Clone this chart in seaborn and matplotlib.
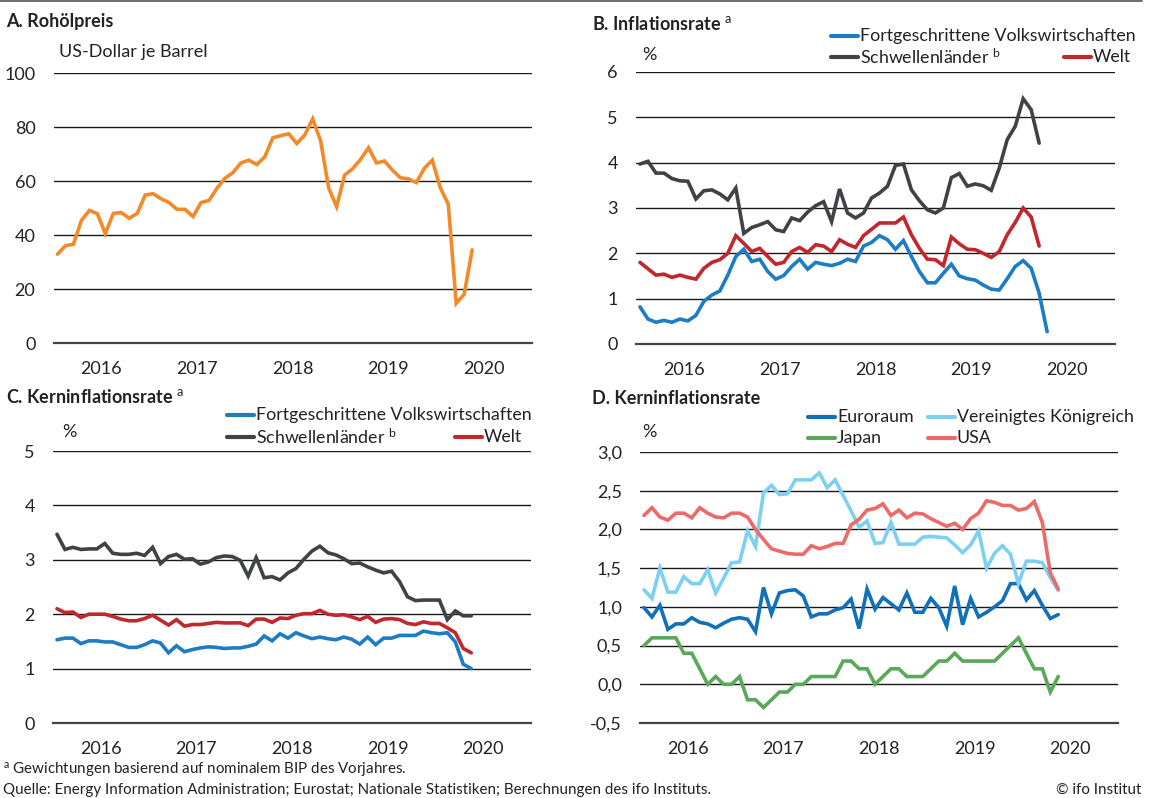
import numpy as np
import pandas as pd
import matplotlib
matplotlib.use('Agg')
import matplotlib.pyplot as plt
import seaborn as sns
from matplotlib.lines import Line2D

# Darstellung
sns.set_style('white')
plt.rcParams['font.family'] = ['Lato', 'DejaVu Sans']
plt.rcParams['mathtext.fontset'] = 'custom'
plt.rcParams['mathtext.rm'] = 'Lato'
plt.rcParams['mathtext.it'] = 'Lato:italic'
plt.rcParams['mathtext.bf'] = 'Lato:bold'

W, H = 1150, 798
years = ['2016', '2017', '2018', '2019', '2020']

# A. Rohölpreis (US-Dollar je Barrel), monatlich ab Jan 2016
oil = [32.9, 36.0, 36.6, 45.4, 49.1, 47.9, 40.5, 48.0, 48.3, 46.2, 48.0, 54.8,
       55.3, 53.4, 52.0, 49.5, 49.5, 46.8, 52.0, 52.8, 57.3, 61.0, 63.1, 66.7,
       67.7, 66.1, 69.0, 76.0, 76.8, 77.5, 73.9, 77.0, 83.0, 74.8, 57.5, 50.5,
       62.2, 64.5, 68.0, 72.3, 66.7, 67.4, 64.0, 61.2, 60.8, 59.4, 64.7, 67.7,
       57.5, 51.4, 14.7, 18.1, 34.5]

# B. Inflationsrate (%)
inf_adv = [0.82, 0.55, 0.48, 0.52, 0.48, 0.55, 0.51, 0.63, 0.94, 1.08, 1.17, 1.52,
           1.93, 2.09, 1.82, 1.87, 1.60, 1.43, 1.51, 1.71, 1.87, 1.65, 1.80, 1.76,
           1.73, 1.78, 1.87, 1.82, 2.16, 2.24, 2.39, 2.30, 2.09, 2.28, 1.93, 1.60,
           1.35, 1.35, 1.56, 1.76, 1.50, 1.44, 1.41, 1.30, 1.21, 1.19, 1.44, 1.71,
           1.84, 1.67, 1.12, 0.27]
inf_em = [3.97, 4.03, 3.77, 3.77, 3.65, 3.60, 3.59, 3.20, 3.38, 3.40, 3.31, 3.18,
          3.44, 2.44, 2.57, 2.63, 2.70, 2.52, 2.48, 2.78, 2.72, 2.91, 3.05, 3.14,
          2.70, 3.42, 2.89, 2.78, 2.89, 3.22, 3.33, 3.48, 3.94, 3.97, 3.40, 3.16,
          2.96, 2.89, 3.00, 3.67, 3.76, 3.48, 3.53, 3.49, 3.39, 3.88, 4.51, 4.80,
          5.41, 5.17, 4.43]
inf_world = [1.80, 1.66, 1.52, 1.54, 1.47, 1.52, 1.47, 1.43, 1.67, 1.80, 1.86, 2.00,
             2.39, 2.22, 2.04, 2.11, 1.93, 1.76, 1.80, 2.04, 2.13, 2.02, 2.19, 2.16,
             2.04, 2.30, 2.20, 2.13, 2.39, 2.53, 2.67, 2.67, 2.67, 2.80, 2.41, 2.11,
             1.87, 1.86, 1.73, 2.36, 2.21, 2.09, 2.08, 2.00, 1.91, 2.04, 2.41, 2.68,
             3.00, 2.80, 2.16]

# C. Kerninflationsrate (%)
core_adv = [1.53, 1.56, 1.56, 1.46, 1.51, 1.51, 1.49, 1.49, 1.44, 1.39, 1.39, 1.44,
            1.51, 1.47, 1.29, 1.42, 1.31, 1.35, 1.38, 1.40, 1.39, 1.37, 1.38, 1.38,
            1.41, 1.45, 1.60, 1.51, 1.64, 1.56, 1.66, 1.60, 1.55, 1.58, 1.55, 1.53,
            1.58, 1.54, 1.45, 1.58, 1.44, 1.56, 1.56, 1.61, 1.61, 1.61, 1.69, 1.66,
            1.64, 1.66, 1.49, 1.08, 1.00]
core_em = [3.47, 3.19, 3.23, 3.19, 3.20, 3.20, 3.30, 3.12, 3.10, 3.10, 3.12, 3.08,
           3.23, 2.93, 3.06, 3.10, 3.01, 3.02, 2.92, 2.96, 3.04, 3.07, 3.06, 2.99,
           2.70, 3.04, 2.67, 2.69, 2.63, 2.76, 2.84, 3.01, 3.16, 3.25, 3.13, 3.09,
           3.02, 2.93, 2.94, 2.87, 2.81, 2.76, 2.79, 2.60, 2.32, 2.25, 2.26, 2.26,
           2.26, 1.90, 2.06, 1.97, 1.97]
core_world = [2.10, 2.03, 2.04, 1.94, 2.00, 2.00, 2.00, 1.96, 1.91, 1.88, 1.88, 1.92,
              1.98, 1.89, 1.80, 1.90, 1.78, 1.81, 1.81, 1.83, 1.85, 1.84, 1.84, 1.84,
              1.79, 1.91, 1.91, 1.85, 1.93, 1.92, 1.98, 2.01, 2.01, 2.07, 2.00, 1.98,
              1.99, 1.95, 1.90, 1.96, 1.85, 1.91, 1.92, 1.90, 1.83, 1.81, 1.86, 1.83,
              1.83, 1.75, 1.66, 1.37, 1.29]

# D. Kerninflationsrate nach Ländern (%)
ez = [0.99, 0.87, 1.02, 0.71, 0.78, 0.78, 0.86, 0.80, 0.78, 0.73, 0.79, 0.84,
      0.86, 0.84, 0.68, 1.25, 0.91, 1.18, 1.21, 1.22, 1.14, 0.87, 0.91, 0.91,
      0.96, 0.99, 1.10, 0.72, 1.23, 0.97, 1.12, 1.04, 0.96, 1.18, 0.93, 0.93,
      1.11, 0.99, 0.75, 1.27, 0.77, 1.11, 0.87, 0.93, 1.00, 1.08, 1.30, 1.30,
      1.09, 1.21, 1.02, 0.85, 0.90]
uk = [1.22, 1.11, 1.50, 1.19, 1.19, 1.39, 1.30, 1.30, 1.48, 1.18, 1.37, 1.57,
      1.58, 1.98, 1.78, 2.47, 2.57, 2.45, 2.46, 2.64, 2.64, 2.64, 2.73, 2.54,
      2.64, 2.44, 2.24, 2.03, 2.11, 1.82, 1.83, 2.09, 1.81, 1.81, 1.81, 1.90,
      1.91, 1.90, 1.89, 1.80, 1.70, 1.80, 1.98, 1.50, 1.69, 1.79, 1.68, 1.30,
      1.59, 1.59, 1.57, 1.38, 1.21]
jp = [0.5, 0.6, 0.6, 0.6, 0.6, 0.4, 0.4, 0.2, 0.0, 0.1, 0.0, 0.0,
      0.1, -0.2, -0.2, -0.3, -0.2, -0.1, -0.1, 0.0, 0.0, 0.1, 0.1, 0.1,
      0.1, 0.3, 0.3, 0.2, 0.2, 0.0, 0.1, 0.2, 0.2, 0.1, 0.1, 0.1,
      0.2, 0.3, 0.3, 0.4, 0.3, 0.3, 0.3, 0.3, 0.3, 0.4, 0.5, 0.6,
      0.4, 0.2, 0.2, -0.1, 0.1]
us = [2.18, 2.28, 2.16, 2.12, 2.21, 2.21, 2.15, 2.28, 2.21, 2.16, 2.15, 2.21,
      2.21, 2.16, 2.00, 1.87, 1.75, 1.72, 1.69, 1.68, 1.68, 1.79, 1.75, 1.78,
      1.82, 1.82, 2.06, 2.13, 2.25, 2.27, 2.33, 2.18, 2.25, 2.15, 2.21, 2.20,
      2.14, 2.09, 2.04, 2.08, 2.00, 2.14, 2.21, 2.37, 2.35, 2.31, 2.31, 2.25,
      2.27, 2.36, 2.09, 1.44, 1.23]

C_OIL = '#F28A2A'
C_ADV = '#1C7CC4'
C_EM = '#404245'
C_WORLD = '#C1272D'
C_EZ = '#1070B8'
C_UK = '#7DD0F2'
C_JP = '#5AA85A'
C_US = '#EC6A68'
TXT = '#222222'


def to_df(series):
    rows = []
    for name, vals in series.items():
        for i, v in enumerate(vals):
            rows.append((i + 0.5, v, name))
    return pd.DataFrame(rows, columns=['monat', 'wert', 'reihe'])


def px(x, y):
    return x / W, 1 - y / H


def make_axes(fig, left, top, right, bottom):
    x0, y0 = px(left, bottom)
    x1, y1 = px(right, top)
    return fig.add_axes([x0, y0, x1 - x0, y1 - y0])


def style_axis(ax, ymin, ymax, step, fmt):
    ax.set_xlim(0, 60)
    ax.set_ylim(ymin, ymax)
    ticks = np.arange(ymin, ymax + step / 2, step)
    ax.set_yticks(ticks)
    ax.set_yticklabels([fmt(t) for t in ticks])
    ax.grid(axis='y', color='#1a1a1a', lw=1.0)
    ax.grid(axis='x', visible=False)
    ax.set_axisbelow(True)
    ax.set_xticks(np.arange(0, 61, 12))
    ax.set_xticklabels([])
    ax.set_xticks(np.arange(6, 60, 12), minor=True)
    ax.set_xticklabels(years, minor=True)
    ax.tick_params(axis='x', which='major', length=6, width=1.3, color='#444444', direction='out')
    ax.tick_params(axis='x', which='minor', length=0, pad=13, labelsize=13, labelcolor=TXT)
    ax.tick_params(axis='y', length=0, pad=13, labelsize=13, labelcolor=TXT)
    for s in ['top', 'right', 'left']:
        ax.spines[s].set_visible(False)
    ax.spines['bottom'].set_color('#444444')
    ax.spines['bottom'].set_linewidth(1.6)
    ax.set_xlabel('')
    ax.set_ylabel('')


def draw(ax, series, colors):
    df = to_df(series)
    sns.lineplot(data=df, x='monat', y='wert', hue='reihe', palette=colors,
                 hue_order=list(series.keys()), lw=2.6, legend=False, ax=ax)
    for line in ax.lines:
        line.set_solid_joinstyle('miter')


def legend_item(fig, x, y, color, text):
    (hx0, hy), (hx1, _) = px(x, y), px(x + 27, y)
    fig.add_artist(Line2D([hx0, hx1], [hy, hy], color=color, lw=3, transform=fig.transFigure))
    tx, ty = px(x + 29, y)
    fig.text(tx, ty, text, fontsize=12.8, va='center', ha='left', color=TXT)


def label(fig, x, y, text, **kw):
    tx, ty = px(x, y)
    kw.setdefault('fontsize', 13)
    kw.setdefault('color', TXT)
    fig.text(tx, ty, text, va='center', **kw)


fig = plt.figure(figsize=(W / 100, H / 100), dpi=100)
fig.add_artist(Line2D([0, 0.993], [0.9985, 0.9985], color='#555555', lw=1.2, transform=fig.transFigure))

int_fmt = lambda t: f'{t:.0f}'
dec_fmt = lambda t: f'{t:.1f}'.replace('.', ',')
sup_a = r'$^{\rm a}$'
sup_b = r'$^{\rm b}$'

# Panel A
axA = make_axes(fig, 53.5, 73, 532, 343)
draw(axA, {'Rohöl': oil}, {'Rohöl': C_OIL})
style_axis(axA, 0, 100, 20, int_fmt)
label(fig, 6, 21, 'A. Rohölpreis', fontweight='bold', fontsize=13)
label(fig, 59, 52, 'US-Dollar je Barrel')

# Panel B
axB = make_axes(fig, 636, 72, 1115, 344)
draw(axB, {'Fortgeschrittene Volkswirtschaften': inf_adv,
           'Schwellenländer': inf_em, 'Welt': inf_world},
     {'Fortgeschrittene Volkswirtschaften': C_ADV, 'Schwellenländer': C_EM, 'Welt': C_WORLD})
style_axis(axB, 0, 6, 1, int_fmt)
label(fig, 592, 24, 'B. Inflationsrate ' + sup_a, fontweight='bold', fontsize=13)
label(fig, 642, 55, '%')
legend_item(fig, 831, 36, C_ADV, 'Fortgeschrittene Volkswirtschaften')
legend_item(fig, 831, 57, C_EM, 'Schwellenländer ' + sup_b)
legend_item(fig, 1064, 57, C_WORLD, 'Welt')

# Panel C
axC = make_axes(fig, 53, 451, 531, 723)
draw(axC, {'Fortgeschrittene Volkswirtschaften': core_adv,
           'Schwellenländer': core_em, 'Welt': core_world},
     {'Fortgeschrittene Volkswirtschaften': C_ADV, 'Schwellenländer': C_EM, 'Welt': C_WORLD})
style_axis(axC, 0, 5, 1, int_fmt)
label(fig, 6, 397, 'C. Kerninflationsrate ' + sup_a, fontweight='bold', fontsize=13)
label(fig, 62, 432, '%')
legend_item(fig, 227, 415, C_ADV, 'Fortgeschrittene Volkswirtschaften')
legend_item(fig, 227, 437, C_EM, 'Schwellenländer ' + sup_b)
legend_item(fig, 455, 437, C_WORLD, 'Welt')

# Panel D
axD = make_axes(fig, 640, 452, 1118, 723)
draw(axD, {'Euroraum': ez, 'Vereinigtes Königreich': uk, 'Japan': jp, 'USA': us},
     {'Euroraum': C_EZ, 'Vereinigtes Königreich': C_UK, 'Japan': C_JP, 'USA': C_US})
style_axis(axD, -0.5, 3.0, 0.5, dec_fmt)
label(fig, 592, 398, 'D. Kerninflationsrate', fontweight='bold', fontsize=13)
label(fig, 642, 432, '%')
legend_item(fig, 808, 417, C_EZ, 'Euroraum')
legend_item(fig, 928, 417, C_UK, 'Vereinigtes Königreich')
legend_item(fig, 808, 438, C_JP, 'Japan')
legend_item(fig, 928, 438, C_US, 'USA')

# Fußnoten
label(fig, 3, 771, sup_a + ' Gewichtungen basierend auf nominalem BIP des Vorjahres.', fontsize=10.9)
label(fig, 3, 790, 'Quelle: Energy Information Administration; Eurostat; Nationale Statistiken; '
      'Berechnungen des ifo Instituts.', fontsize=10.9)
label(fig, 1141, 790, '© ifo Institut', fontsize=10.9, ha='right')

fig.savefig('out.png', dpi=100)
